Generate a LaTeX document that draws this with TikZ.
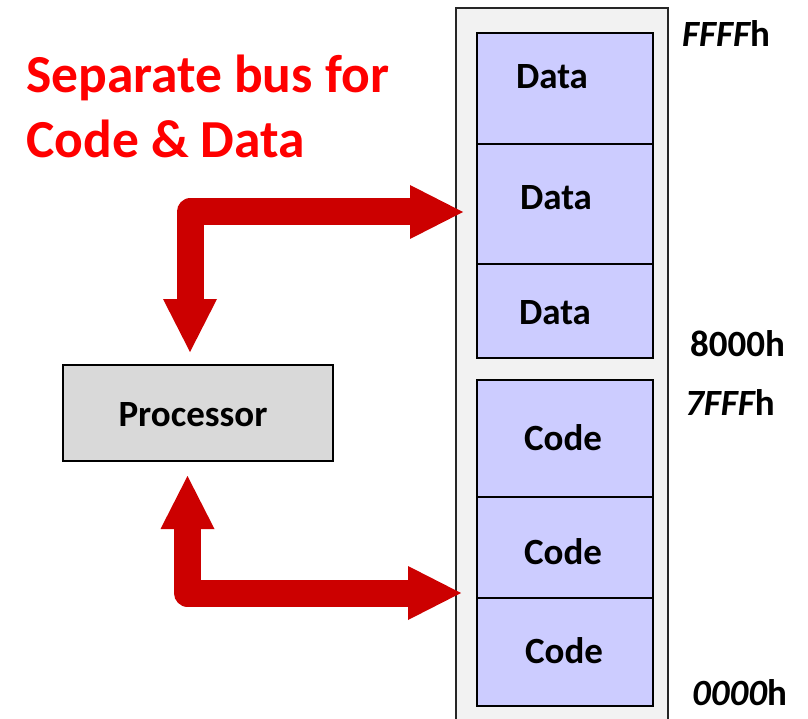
\documentclass[tikz,border=0pt]{standalone}
\usepackage{fontspec}
\setmainfont{Carlito}
\usetikzlibrary{arrows.meta}
\definecolor{busred}{HTML}{CC0000}
\definecolor{titlered}{HTML}{FF0000}
\definecolor{memgray}{HTML}{F2F2F2}
\definecolor{cellblue}{HTML}{CCCCFF}
\definecolor{cpugray}{HTML}{D9D9D9}
\tikzset{
  cell/.style={draw=black, line width=1.6pt, fill=cellblue, inner sep=0pt, anchor=north west},
  celltext/.style={font=\fontsize{37}{42}\selectfont\bfseries, inner sep=0pt, anchor=base},
  addr/.style={font=\fontsize{37}{42}\selectfont\bfseries, inner sep=0pt, anchor=base west},
  titletext/.style={font=\fontsize{53.5}{65}\selectfont\bfseries, text=titlered, anchor=base west, inner sep=0pt},
  bus/.style={busred, line width=27pt, line join=round,
    {Triangle[width=54pt,length=53pt,line width=0pt]}-{Triangle[width=54pt,length=53pt,line width=0pt]}},
}
\begin{document}
\begin{tikzpicture}[x=1pt,y=-1pt]
\useasboundingbox (0,0) rectangle (808,719);

% title
\node[titletext] (title1) at (26,93) {Separate bus for};
\node[titletext] (title2) at (26,158) {Code \& Data};

% memory column, open at the bottom
\fill[memgray] (456,8) rectangle (668,730);
\draw[line width=1.4pt, black!85] (456,730) -- (456,8) -- (668,8) -- (668,730);

% data area
\node[cell, minimum width=176pt, minimum height=111pt] (d1) at (476,32) {};
\node[cell, minimum width=176pt, minimum height=120pt] (d2) at (476,143) {};
\node[cell, minimum width=176pt, minimum height=94pt] (d3) at (476,263) {};
% code area
\node[cell, minimum width=176pt, minimum height=117pt] (c1) at (476,379) {};
\node[cell, minimum width=176pt, minimum height=101pt] (c2) at (476,496) {};
\node[cell, minimum width=176pt, minimum height=108pt] (c3) at (476,597) {};

\node[celltext] (d1t) at (552,89) {Data};
\node[celltext] (d2t) at (556,210) {Data};
\node[celltext] (d3t) at (555,324) {Data};
\node[celltext] (c1t) at (563,450) {Code};
\node[celltext] (c2t) at (563,564) {Code};
\node[celltext] (c3t) at (564,663) {Code};

% address labels
\node[addr] (aFFFF) at (682,47) {\itshape FFFF\upshape h};
\node[addr] (a8000) at (690,356) {8000h};
\node[addr] (a7FFF) at (685,415) {\itshape 7FFF\upshape h};
\node[addr] (a0000) at (692,705) {\itshape 0000\upshape h};

% processor
\node[draw=black, line width=2pt, fill=cpugray, minimum width=270pt, minimum height=96pt, inner sep=0pt]
  (cpu) at (198,413) {};
\node[celltext] (cput) at (193,426) {Processor};

% buses
\coordinate (cpuIn)  at (190,352);
\coordinate (dataIn) at (463,212);
\coordinate (cpuOut) at (187.5,476);
\coordinate (codeIn) at (461,593);
\draw[bus] (cpuIn) |- (dataIn);
\draw[bus] (cpuOut) |- (codeIn);
\end{tikzpicture}
\end{document}
